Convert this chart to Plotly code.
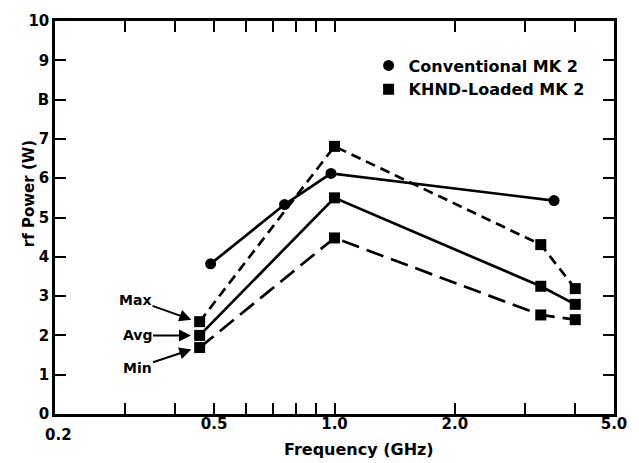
import math
import plotly.graph_objects as go

# ---- data ----
conv_freq = [0.49, 0.75, 0.98, 3.54]
conv_power = [3.82, 5.33, 6.12, 5.43]

khnd_freq = [0.46, 1.0, 3.28, 4.0]
khnd_max = [2.35, 6.81, 4.31, 3.19]
khnd_avg = [2.0, 5.5, 3.25, 2.79]
khnd_min = [1.69, 4.48, 2.52, 2.4]

x_tickvals = [0.2, 0.5, 1.0, 2.0, 5.0]
x_ticktext = ["", "0.5", "1.0", "2.0", "5.0"]
x_first_label = "0.2"
x_minor = [0.3, 0.4, 0.6, 0.7, 0.8, 0.9, 3.0, 4.0]
y_tickvals = list(range(0, 11))
y_ticktext = ["0", "1", "2", "3", "4", "5", "6", "7", "B", "9", "10"]

labels = ["Max", "Avg", "Min"]

FONT = "DejaVu Sans, sans-serif"
LW = 2.7
MS = 11

fig = go.Figure()

fig.add_trace(go.Scatter(x=conv_freq, y=conv_power, mode="lines+markers",
                         line=dict(color="black", width=LW),
                         marker=dict(symbol="circle", size=MS, color="black"),
                         showlegend=False))
fig.add_trace(go.Scatter(x=khnd_freq, y=khnd_max, mode="lines+markers",
                         line=dict(color="black", width=LW, dash="10px,6px"),
                         marker=dict(symbol="square", size=MS, color="black"),
                         showlegend=False))
fig.add_trace(go.Scatter(x=khnd_freq, y=khnd_avg, mode="lines+markers",
                         line=dict(color="black", width=LW),
                         marker=dict(symbol="square", size=MS, color="black"),
                         showlegend=False))
fig.add_trace(go.Scatter(x=khnd_freq, y=khnd_min, mode="lines+markers",
                         line=dict(color="black", width=LW, dash="18px,8px"),
                         marker=dict(symbol="square", size=MS, color="black"),
                         showlegend=False))

# legend entries (marker only)
fig.add_trace(go.Scatter(x=[None], y=[None], mode="markers", name="Conventional MK 2",
                         marker=dict(symbol="circle", size=11, color="black")))
fig.add_trace(go.Scatter(x=[None], y=[None], mode="markers", name="KHND-Loaded MK 2",
                         marker=dict(symbol="square", size=11, color="black")))

axis_common = dict(
    showline=True, linecolor="black", linewidth=2.5, mirror="allticks",
    ticks="inside", ticklen=11, tickwidth=2, tickcolor="black",
    showgrid=False, zeroline=False,
    tickfont=dict(family=FONT, size=15, color="black", weight="bold"),
)

fig.update_layout(
    width=639, height=463,
    margin=dict(l=55, r=19, t=15, b=49),
    paper_bgcolor="white", plot_bgcolor="white",
    xaxis=dict(type="log", range=[math.log10(0.2), math.log10(5.0)],
               tickmode="array", tickvals=x_tickvals, ticktext=x_ticktext,
               ticklabelstandoff=-6,
               minor=dict(tickmode="array", tickvals=x_minor, ticks="inside",
                          ticklen=11, tickwidth=2, tickcolor="black", showgrid=False),
               **axis_common),
    yaxis=dict(range=[0, 10], tickmode="array", tickvals=y_tickvals,
               ticktext=y_ticktext, **axis_common),
    legend=dict(x=0.561, y=0.93, xanchor="left", yanchor="top",
                bgcolor="rgba(0,0,0,0)", borderwidth=0,
                font=dict(family=FONT, size=16, color="black", weight="bold"),
                itemwidth=30, tracegroupgap=0),
    showlegend=True,
)

# "0.2" label placed below the corner as in the reference
fig.add_annotation(text=x_first_label, xref="paper", yref="paper",
                   x=0, y=0, xanchor="center", yanchor="top",
                   xshift=3, yshift=-10, showarrow=False,
                   font=dict(family=FONT, size=15, color="black", weight="bold"))

# axis titles
fig.add_annotation(text="Frequency (GHz)", xref="paper", yref="paper",
                   x=0.543, y=-0.09, xanchor="center", yanchor="middle",
                   showarrow=False,
                   font=dict(family=FONT, size=16, color="black", weight="bold"))
fig.add_annotation(text="rf Power (W)", xref="paper", yref="paper",
                   x=-0.046, y=0.56, xanchor="center", yanchor="middle",
                   textangle=-90, showarrow=False,
                   font=dict(family=FONT, size=15, color="black", weight="bold"))

# Max / Avg / Min arrows pointing at the first KHND points
series_first = [khnd_max[0], khnd_avg[0], khnd_min[0]]
offsets = [(-62, -22), (-60, 0), (-60, 20)]
for lab, val, (ax, ay) in zip(labels, series_first, offsets):
    fig.add_annotation(x=math.log10(khnd_freq[0] * 0.985), y=val,
                       xref="x", yref="y", text=lab, showarrow=True,
                       ax=ax, ay=ay, arrowhead=2, arrowsize=1.2, arrowwidth=2,
                       arrowcolor="black", standoff=6,
                       font=dict(family=FONT, size=14, color="black", weight="bold"))

fig.write_html("out.html", config={"displayModeBar": False},
               post_script="document.body.style.margin='0';document.body.style.overflow='hidden';")
